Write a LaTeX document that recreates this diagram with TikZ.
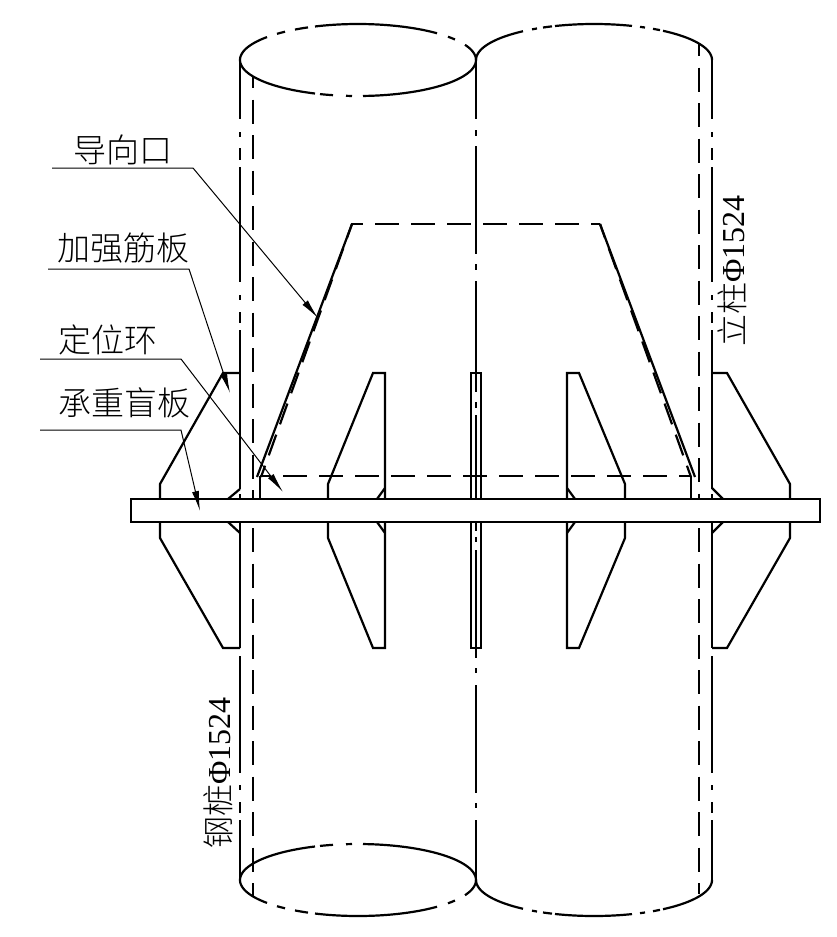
\documentclass[tikz,border=0pt]{standalone}
\usepackage{fontspec}
\setmainfont{Liberation Serif}
\newfontfamily\cjk[UprightFont=* Light]{Noto Sans CJK SC}
\usetikzlibrary{arrows.meta,positioning}
\tikzset{%
	pile/.style     = {line width=2.2pt},
	hidden/.style   = {line width=2.2pt, dash pattern=on 24pt off 11.5pt},
	guide/.style    = {line width=2.2pt, dash pattern=on 24pt off 12pt},
	plate/.style    = {line width=2.2pt, fill=white},
	leader/.style   = {line width=1pt, -{Latex[length=20pt,width=7pt]}},
	tag/.style      = {font=\cjk\fontsize{33}{33}\selectfont, inner sep=0pt},
	sizetag/.style  = {font=\fontsize{32}{32}\selectfont, inner sep=0pt, rotate=90},
}
% piece of a pile end: centre x, centre y, side, from x, to x
\newcommand{\pilearc}[5]{%
	\pgfmathsetmacro{\arcfrom}{acos((#4-#1)/118)}%
	\pgfmathsetmacro{\arcto}{acos((#5-#1)/118)}%
	\draw[pile,domain=\arcfrom:\arcto,samples=30] plot ({#1+118*cos(\x)},{#2+#3*36*sin(\x)});%
}
\begin{document}
\begin{tikzpicture}[x=1pt,y=-1pt]
	\useasboundingbox (0,0) rectangle (837,937);
	% ends of the two piles
	\foreach \a/\b in {240/267,277/285,295/308,315/437,448/455,465/476} {
		\pilearc{358}{60}{-1}{\a}{\b}
		\pilearc{358}{880}{1}{\a}{\b}
	}
	\foreach \a/\b in {240/315,320/333,346/352,363/476} {
		\pilearc{358}{60}{1}{\a}{\b}
		\pilearc{358}{880}{-1}{\a}{\b}
	}
	\foreach \a/\b in {476/523,532/537,543/552,555/632,640/645,653/660,663/712} {
		\pilearc{594}{60}{-1}{\a}{\b}
		\pilearc{594}{880}{1}{\a}{\b}
	}
	% outlines of the piles
	\foreach \a/\b in {60/119,132/137,148/160,167/282,295/300,312/323,330/489,494/499,522/648,656/773,785/790,802/813,820/880} {
		\draw[pile] (240,\a) -- (240,\b);
		\draw[pile] (712,\a) -- (712,\b);
	}
	\foreach \a/\b in {60/119,130/136,146/254,264/270,281/392,402/408,415/499,522/531,537/542,550/658,668/673,685/793,803/808,820/880} {
		\draw[pile] (476,\a) -- (476,\b);
	}
	% hidden inner walls
	\draw[hidden,dash phase=12pt] (253,76) -- (253,499);
	\draw[hidden] (253,528) -- (253,896);
	\draw[hidden,dash phase=12pt] (699,44) -- (699,499);
	\draw[hidden] (699,528) -- (699,894);
	% guide cone
	\draw[guide,dash phase=12pt] (351,224) -- (600,224);
	\draw[guide,dash phase=13pt] (260,476) -- (691,476);
	\draw[pile] (352,224) -- (257,477);
	\draw[pile] (600,224) -- (695,477);
	\draw[hidden,dash pattern=on 22pt off 11pt,dash phase=10pt] (261,477) -- (352,224);
	\draw[hidden,dash pattern=on 22pt off 11pt,dash phase=10pt] (691,477) -- (600,224);
	\draw[pile] (260,476) -- (260,499);
	\draw[pile] (691,476) -- (691,499);
	% stiffeners
	\draw[pile] (240,373) -- (223,373) -- (160,484) -- (160,499);
	\draw[pile] (160,522) -- (160,538) -- (223,648) -- (240,648);
	\draw[pile] (240,489) -- (228,499);
	\draw[pile] (228,522) -- (240,533);
	\draw[pile] (712,373) -- (727,373) -- (790,484) -- (790,499);
	\draw[pile] (790,522) -- (790,538) -- (727,648) -- (712,648);
	\draw[pile] (712,488) -- (723,499);
	\draw[pile] (723,522) -- (712,533);
	\draw[pile] (385,499) -- (385,373) -- (373,373) -- (328,484) -- (328,499);
	\draw[pile] (328,522) -- (328,538) -- (373,648) -- (385,648) -- (385,522);
	\draw[pile] (385,488) -- (377,499);
	\draw[pile] (377,522) -- (385,533);
	\draw[pile] (567,499) -- (567,373) -- (579,373) -- (625,484) -- (625,499);
	\draw[pile] (625,522) -- (625,538) -- (579,648) -- (567,648) -- (567,522);
	\draw[pile] (567,488) -- (575,499);
	\draw[pile] (575,522) -- (567,533);
	\draw[pile] (471,499) -- (471,373) -- (481,373) -- (481,499);
	\draw[pile] (471,522) -- (471,648) -- (481,648) -- (481,522);
	% bearing plate
	\draw[plate] (131,499) rectangle (820,522);
	% labels and leaders
	\coordinate (guideline) at (52,168);
	\coordinate (guidebend) at (193,168);
	\coordinate (guidetip) at (318,318);
	\coordinate (ribline) at (48,269);
	\coordinate (ribbend) at (189,269);
	\coordinate (ribtip) at (230,393);
	\coordinate (ringline) at (40,359);
	\coordinate (ringbend) at (181,359);
	\coordinate (ringtip) at (283,492);
	\coordinate (plateline) at (40,430);
	\coordinate (platebend) at (181,430);
	\coordinate (platetip) at (200,511);
	\node[tag] (guidename) at (123,150) {导向口};
	\node[tag] (ribname) at (123,248) {加强筋板};
	\node[tag] (ringname) at (108,340) {定位环};
	\node[tag] (platename) at (124,403) {承重盲板};
	\draw[leader] (guideline) -- (guidebend) -- (guidetip);
	\draw[leader] (ribline) -- (ribbend) -- (ribtip);
	\draw[leader] (ringline) -- (ringbend) -- (ringtip);
	\draw[leader] (plateline) -- (platebend) -- (platetip);
	\node[sizetag] (columnsize) at (732,271) {{\cjk 立柱}Φ1524};
	\node[sizetag] (pilesize) at (218,773) {{\cjk 钢桩}Φ1524};
\end{tikzpicture}
\end{document}
